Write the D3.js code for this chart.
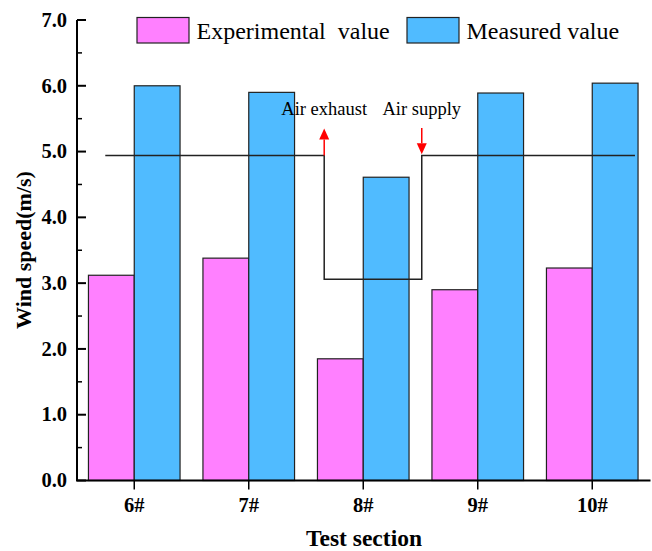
<!DOCTYPE html>
<html>
<head>
<meta charset="utf-8">
<script src="https://cdn.jsdelivr.net/npm/d3@7/dist/d3.min.js"></script>
<style>
  html, body { margin: 0; padding: 0; background: #fff; }
  svg { display: block; }
  text { font-family: "Liberation Serif", "Times New Roman", serif; fill: #000; }
</style>
</head>
<body>
<svg id="chart" width="652" height="551"></svg>
<script>
// Test sections along the tunnel
const sections = ["6#", "7#", "8#", "9#", "10#"];
// Wind speed (m/s) per section
const experimental = [3.12, 3.38, 1.85, 2.90, 3.23];
const measured = [6.00, 5.90, 4.61, 5.89, 6.04];
const seriesNames = ["Experimental  value", "Measured value"];
const seriesColors = ["#ff80ff", "#50bbff"];
// Ventilation profile (position in section index units, wind speed)
const profileX = [-0.253, 1.659, 1.659, 2.511, 2.511, 4.373];
const profileY = [4.94, 4.94, 3.06, 3.06, 4.94, 4.94];
// Arrow annotations: exhaust points up, supply points down
const arrowLabels = ["Air exhaust", "Air supply"];
const arrowAt = [1.659, 2.511];
const arrowFrom = [4.94, 5.36];
const arrowTo = [5.35, 4.96];
const arrowLabelY = 5.55;
const yTicks = [0, 1, 2, 3, 4, 5, 6, 7];

const svg = d3.select("#chart");
const plotLeft = 77, plotRight = 649.5, plotTop = 20, plotBottom = 480.5;

const x = d3.scaleBand().domain(sections).range([plotLeft, plotRight])
  .paddingInner(0.2).paddingOuter(0.1);
const bw = x.bandwidth() / 2;
const y = d3.scaleLinear().domain([0, 7]).range([plotBottom, plotTop]);
const xi = d3.scaleLinear().domain([0, sections.length - 1])
  .range([x(sections[0]) + x.bandwidth() / 2, x(sections[sections.length - 1]) + x.bandwidth() / 2]);

// Bars
const groups = svg.append("g");
[experimental, measured].forEach((vals, k) => {
  groups.selectAll(null).data(vals).enter().append("rect")
    .attr("x", (d, i) => x(sections[i]) + k * bw)
    .attr("y", d => y(d))
    .attr("width", bw)
    .attr("height", d => y(0) - y(d))
    .attr("fill", seriesColors[k])
    .attr("stroke", "#222")
    .attr("stroke-width", 1.2);
});

// Ventilation step profile
svg.append("path")
  .datum(profileX.map((v, i) => [v, profileY[i]]))
  .attr("d", d3.line().x(d => xi(d[0])).y(d => y(d[1])))
  .attr("fill", "none")
  .attr("stroke", "#222")
  .attr("stroke-width", 1.5);

// Arrows
arrowAt.forEach((p, i) => {
  const ax = xi(p);
  const y0 = y(arrowFrom[i]), y1 = y(arrowTo[i]);
  const dir = y1 < y0 ? -1 : 1;
  const headLen = 11, headW = 5;
  svg.append("line")
    .attr("x1", ax).attr("x2", ax)
    .attr("y1", y0).attr("y2", y1 - dir * headLen)
    .attr("stroke", "#ff0000").attr("stroke-width", 1.5);
  svg.append("path")
    .attr("d", `M${ax},${y1} L${ax - headW},${y1 - dir * headLen} L${ax + headW},${y1 - dir * headLen} Z`)
    .attr("fill", "#ff0000");
  svg.append("text")
    .attr("x", ax).attr("y", y(arrowLabelY))
    .attr("text-anchor", "middle")
    .style("font-size", "18.5px")
    .text(arrowLabels[i]);
});

// Y axis
const yAxis = svg.append("g").attr("transform", `translate(${plotLeft},0)`);
yAxis.append("line").attr("x1", 0).attr("x2", 0).attr("y1", y(7)).attr("y2", y(0))
  .attr("stroke", "#000").attr("stroke-width", 2);
yAxis.selectAll(".major").data(yTicks).enter().append("line")
  .attr("x1", 0).attr("x2", 9).attr("y1", d => y(d)).attr("y2", d => y(d))
  .attr("stroke", "#000").attr("stroke-width", 2);
yAxis.selectAll(".minor").data(yTicks.slice(0, -1).map(d => d + 0.5)).enter().append("line")
  .attr("x1", 0).attr("x2", 5).attr("y1", d => y(d)).attr("y2", d => y(d))
  .attr("stroke", "#000").attr("stroke-width", 1.5);
yAxis.selectAll("text").data(yTicks).enter().append("text")
  .attr("x", -10).attr("y", d => y(d)).attr("dy", "0.33em")
  .attr("text-anchor", "end")
  .style("font-size", "20.5px").style("font-weight", "bold")
  .text(d3.format(".1f"));

// X axis
const xAxis = svg.append("g").attr("transform", `translate(0,${plotBottom})`);
xAxis.append("line").attr("x1", plotLeft - 1).attr("x2", plotRight + 1).attr("y1", 0).attr("y2", 0)
  .attr("stroke", "#000").attr("stroke-width", 2);
xAxis.selectAll(".tick").data(sections).enter().append("line")
  .attr("x1", d => x(d) + x.bandwidth() / 2).attr("x2", d => x(d) + x.bandwidth() / 2)
  .attr("y1", 0).attr("y2", 9)
  .attr("stroke", "#000").attr("stroke-width", 1.5);
xAxis.selectAll("text").data(sections).enter().append("text")
  .attr("x", d => x(d) + x.bandwidth() / 2).attr("y", 31.5)
  .attr("text-anchor", "middle")
  .style("font-size", "20.5px").style("font-weight", "bold")
  .text(d => d);

// Axis titles
svg.append("text")
  .attr("transform", "translate(31,250) rotate(-90)")
  .attr("text-anchor", "middle")
  .style("font-size", "22px").style("font-weight", "bold")
  .text("Wind speed(m/s)");
svg.append("text")
  .attr("x", 364).attr("y", 545.5)
  .attr("text-anchor", "middle")
  .style("font-size", "23.5px").style("font-weight", "bold")
  .text("Test section");

// Legend
const legendX = [137, 407];
seriesNames.forEach((name, k) => {
  svg.append("rect")
    .attr("x", legendX[k]).attr("y", 17.5).attr("width", 52).attr("height", 25.5)
    .attr("fill", seriesColors[k]).attr("stroke", "#222").attr("stroke-width", 1.2);
  svg.append("text")
    .attr("x", legendX[k] + 59.5).attr("y", 38.5)
    .attr("xml:space", "preserve")
    .style("white-space", "pre")
    .style("font-size", "24px")
    .text(name);
});
</script>
</body>
</html>
